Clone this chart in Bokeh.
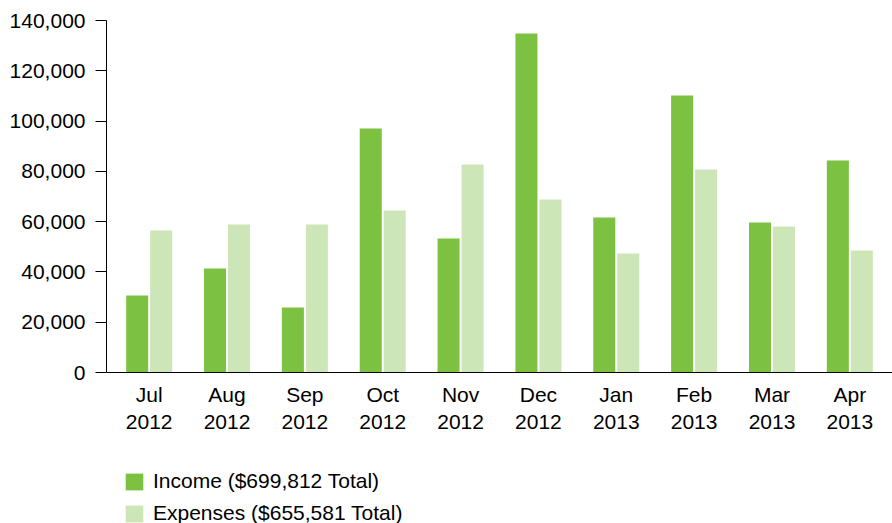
from bokeh.plotting import figure
from bokeh.layouts import column
from bokeh.models import ColumnDataSource, FactorRange, Range1d, NumeralTickFormatter, FixedTicker, Legend, LegendItem
from bokeh.transform import dodge
from bokeh.embed import file_html
from bokeh.resources import INLINE

months = ["Jul\n2012", "Aug\n2012", "Sep\n2012", "Oct\n2012", "Nov\n2012",
          "Dec\n2012", "Jan\n2013", "Feb\n2013", "Mar\n2013", "Apr\n2013"]
income = [30600, 41400, 25900, 97000, 53300, 134800, 61600, 110200, 59700, 84300]
expenses = [56500, 58900, 58900, 64400, 82700, 68800, 47300, 80700, 58100, 48500]
y_ticks = [0, 20000, 40000, 60000, 80000, 100000, 120000, 140000]
income_label = "Income ($699,812 Total)"
expenses_label = "Expenses ($655,581 Total)"

FONT = "Liberation Sans"
INCOME_COLOR = "#7DC142"
EXPENSES_COLOR = "#CDE6B8"

src = ColumnDataSource(dict(month=months, income=income, expenses=expenses))

p = figure(width=892, height=440, output_backend="svg", toolbar_location=None,
           x_range=FactorRange(factors=months, range_padding=0.0096, range_padding_units="percent"),
           y_range=Range1d(0, 140000),
           min_border_left=106, min_border_right=0, min_border_top=20, min_border_bottom=68)

r1 = p.vbar(x=dodge("month", -0.154, range=p.x_range), top="income", width=0.283,
            source=src, fill_color=INCOME_COLOR, line_color=None)
r2 = p.vbar(x=dodge("month", 0.154, range=p.x_range), top="expenses", width=0.283,
            source=src, fill_color=EXPENSES_COLOR, line_color=None)

p.outline_line_color = None
p.xgrid.visible = False
p.ygrid.visible = False

p.yaxis.ticker = FixedTicker(ticks=y_ticks)
p.yaxis.formatter = NumeralTickFormatter(format="0,0")
p.yaxis.minor_tick_line_color = None
p.yaxis.major_tick_out = 11
p.yaxis.major_tick_in = 0
p.yaxis.major_label_standoff = 10
p.yaxis.axis_line_color = "black"
p.yaxis.major_tick_line_color = "black"

p.xaxis.major_tick_out = 0
p.xaxis.major_tick_in = 0
p.xaxis.major_tick_line_color = None
p.xaxis.major_label_standoff = 10
p.xaxis.axis_line_color = "black"

for ax in (p.xaxis, p.yaxis):
    ax.major_label_text_font = FONT
    ax.major_label_text_font_size = "21px"
    ax.major_label_text_color = "black"

# legend panel below the chart (zero-height proxy bars only carry the legend swatches)
lf = figure(width=892, height=83, output_backend="svg", toolbar_location=None,
            x_range=Range1d(0, 1), y_range=Range1d(0, 1),
            min_border_left=106, min_border_right=0, min_border_top=0, min_border_bottom=0)
lf.axis.visible = False
lf.grid.visible = False
lf.outline_line_color = None
proxy = ColumnDataSource(dict(x=[-1.0], top=[0.0]))
l1 = lf.vbar(x="x", top="top", width=0.0, source=proxy, fill_color=INCOME_COLOR, line_color=None)
l2 = lf.vbar(x="x", top="top", width=0.0, source=proxy, fill_color=EXPENSES_COLOR, line_color=None)

legend = Legend(items=[LegendItem(label=income_label, renderers=[l1]),
                       LegendItem(label=expenses_label, renderers=[l2])],
                location=(17, -2), orientation="vertical",
                border_line_color=None, background_fill_alpha=0,
                padding=0, margin=0, spacing=8,
                glyph_width=22, glyph_height=21, label_standoff=8,
                label_text_font=FONT, label_text_font_size="21px",
                label_text_color="black")
lf.add_layout(legend, "center")

layout = column(p, lf, spacing=0)
open("out.html", "w").write(file_html(layout, INLINE))
